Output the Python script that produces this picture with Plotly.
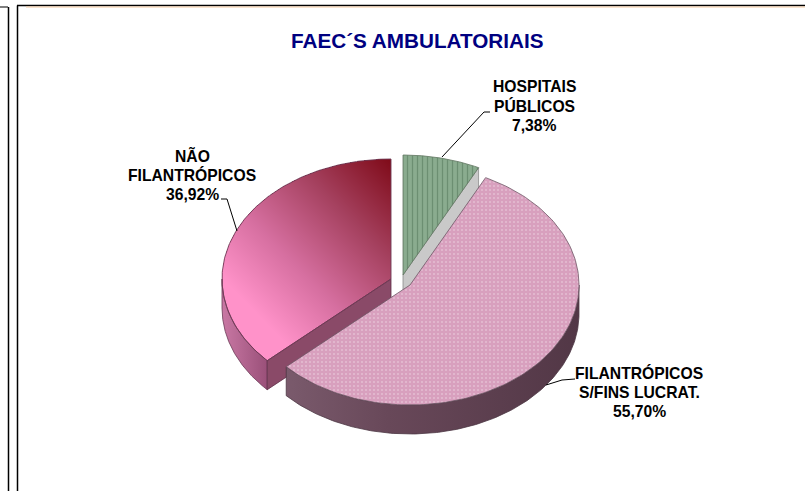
import numpy as np
import plotly.graph_objects as go

categories = ["HOSPITAIS<br>PÚBLICOS", "FILANTRÓPICOS<br>S/FINS LUCRAT.", "NÃO<br>FILANTRÓPICOS"]
values = [7.38, 55.70, 36.92]
value_text = ["7,38%", "55,70%", "36,92%"]
title_text = "FAEC´S AMBULATORIAIS"

# Projection of the tilted, exploded pie
RX, RY, DEPTH = 169, 120, 29
CENTERS = [(403, 275), (410, 285), (391, 279)]
LABEL_POS = [(534, 106), (639, 392), (192, 175)]
LINE_GAP = 19.2

ends = np.cumsum(values) / sum(values) * 2 * np.pi
starts = np.concatenate([[0], ends[:-1]])


def rim(c, t0, t1, dy=0, n=160):
    t = np.linspace(t0, t1, n)
    return c[0] + RX * np.sin(t), c[1] - RY * np.cos(t) + dy


def rim_pt(c, t, dy=0):
    return c[0] + RX * np.sin(t), c[1] - RY * np.cos(t) + dy


def sector(c, t0, t1):
    x, y = rim(c, t0, t1)
    return np.r_[c[0], x, c[0]], np.r_[c[1], y, c[1]]


def band(c, t0, t1):
    x, y = rim(c, t0, t1)
    xb, yb = rim(c, t0, t1, DEPTH)
    return np.r_[x, xb[::-1], x[0]], np.r_[y, yb[::-1], y[0]]


def cut(c, t):
    px, py = rim_pt(c, t)
    return [px, c[0], c[0], px, px], [py, c[1], c[1] + DEPTH, py + DEPTH, py]


def poly(x, y, color, line, pattern=None, gradient=None, width=0.8):
    kw = dict(x=x, y=y, mode="lines", fill="toself", hoverinfo="skip",
              line=dict(color=line, width=width), showlegend=False)
    if pattern:
        kw["fillpattern"] = pattern
    elif gradient:
        kw["fillgradient"] = gradient
    else:
        kw["fillcolor"] = color
    return go.Scatter(**kw)


fig = go.Figure()

# NÃO FILANTRÓPICOS: walls and diagonal gradient top
c = CENTERS[2]
t0, t1 = starts[2], ends[2]
fig.add_trace(poly(*band(c, t0, 1.5 * np.pi), None, "#6b3a55", gradient=dict(
    type="horizontal", colorscale=[[0, "#C978A4"], [1, "#9A5079"]])))
fig.add_trace(poly(*cut(c, t0), "#8A4A68", "#5e2f47"))

px = np.arange(c[0] - RX - 1, c[0] + 1) + 0.5
py = np.arange(c[1] - RY - 1, c[1] + RY + 1) + 0.5
X, Y = np.meshgrid(px, py)
dx, dy = (X - c[0]) / RX, (c[1] - Y) / RY
ang = np.mod(np.arctan2(dx, dy), 2 * np.pi)
inside = (dx ** 2 + dy ** 2 <= 1) & (ang >= t0) & (ang <= t1)
g = ((c[0] - X) * 0.72 + (Y - (c[1] - RY)) * 0.70) / 205.0
Z = np.where(inside, np.clip(g, 0, 1), np.nan)
fig.add_trace(go.Heatmap(x=px, y=py, z=np.round(Z, 3), zmin=0, zmax=1, showscale=False, hoverinfo="skip",
                         colorscale=[[0, "#7F0A18"], [0.35, "#A5415F"], [0.7, "#D66FA0"], [1, "#FF92C9"]]))
fig.add_trace(go.Scatter(x=sector(c, t0, t1)[0], y=sector(c, t0, t1)[1], mode="lines", hoverinfo="skip",
                         line=dict(color="#6e3a55", width=0.9), showlegend=False))

# HOSPITAIS PÚBLICOS
c = CENTERS[0]
t0, t1 = starts[0], ends[0]
fig.add_trace(poly(*cut(c, t1), "#C9C9C9", "#8a8a8a"))
fig.add_trace(poly(*sector(c, t0, t1), None, "#5f7560", pattern=dict(
    shape="|", bgcolor="#8AAC8F", fgcolor="#6C8F72", size=5, solidity=0.25, fillmode="replace")))

# FILANTRÓPICOS
c = CENTERS[1]
t0, t1 = starts[1], ends[1]
fig.add_trace(poly(*band(c, np.pi / 2, t1), None, "#4d3744", gradient=dict(
    type="horizontal", colorscale=[[0, "#7A5A6C"], [0.35, "#684859"], [1, "#523746"]])))
fig.add_trace(poly(*sector(c, t0, t1), None, "#6d5664", pattern=dict(
    shape=".", bgcolor="#D8A0BE", fgcolor="#E5BDD2", size=4, solidity=0.2, fillmode="replace")))

# Leader lines
leaders = [([442, 484, 490], [157, 112, 112]),
           ([546, 562, 575], [385, 380, 379]),
           ([237, 227, 221], [231, 199, 199])]
for lx, ly in leaders:
    fig.add_trace(go.Scatter(x=lx, y=ly, mode="lines", hoverinfo="skip", showlegend=False,
                             line=dict(color="#000000", width=1)))

for cat, txt, (lx, ly) in zip(categories, value_text, LABEL_POS):
    lines = cat.split("<br>") + [txt]
    for i, s in enumerate(lines):
        fig.add_annotation(x=lx, y=ly + (i - 1) * LINE_GAP, text=f"<b>{s}</b>", showarrow=False, align="center",
                           xref="x", yref="y", font=dict(family="Liberation Sans", size=15.7, color="#000000"))

fig.add_annotation(x=417, y=40, text=f"<b>{title_text}</b>", showarrow=False, xref="x", yref="y",
                   font=dict(family="Liberation Sans", size=20.7, color="#000080"))

# Page frames
shapes = []
for x0, y0, x1, y1, col, w in [(0, 7, 8, 7, "#555555", 1.5), (8.5, 7, 8.5, 491, "#000000", 1.5),
                               (17.5, 5.5, 17.5, 491, "#000000", 1.5), (17, 5.5, 805, 5.5, "#000000", 1.5),
                               (26, 7, 805, 7, "#F3C9A0", 1)]:
    shapes.append(dict(type="line", x0=x0, y0=y0, x1=x1, y1=y1, line=dict(color=col, width=w), layer="above"))

fig.update_layout(width=805, height=491, margin=dict(l=0, r=0, t=0, b=0), autosize=False,
                  paper_bgcolor="#FFFFFF", plot_bgcolor="#FFFFFF", showlegend=False, shapes=shapes,
                  xaxis=dict(range=[0, 805], visible=False, fixedrange=True),
                  yaxis=dict(range=[491, 0], visible=False, fixedrange=True))
fig.write_html("out.html", config={"displayModeBar": False},
               post_script="document.body.style.margin='0';document.documentElement.style.overflow='hidden';")
